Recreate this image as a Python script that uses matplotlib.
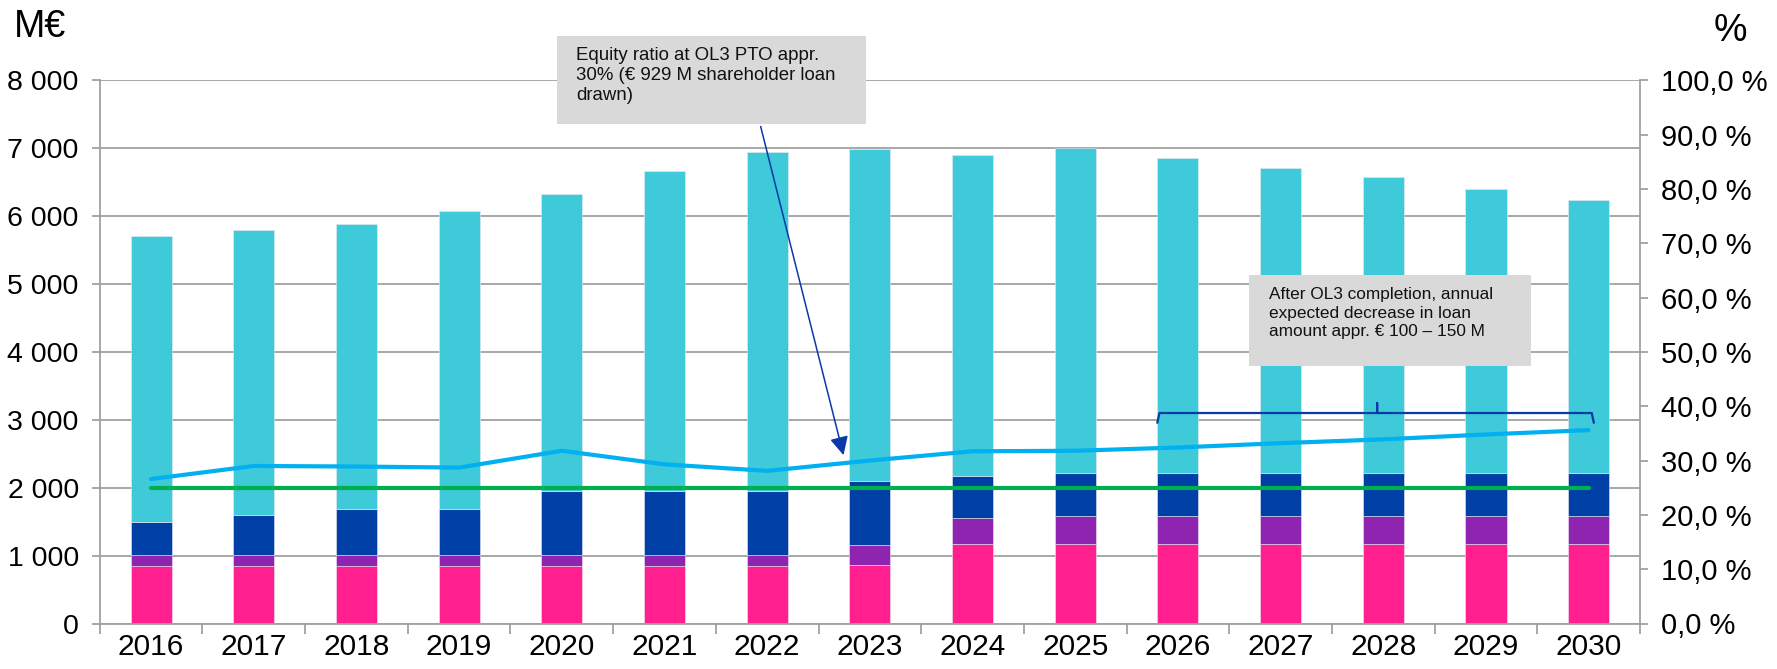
import numpy as np
import matplotlib
matplotlib.use("Agg")
import matplotlib.pyplot as plt

plt.rcParams["font.family"] = ["Liberation Sans", "DejaVu Sans"]

# data (M€ stacked segments, bottom -> top)
years = [str(y) for y in range(2016, 2031)]
pink = [850, 850, 850, 850, 850, 850, 850, 865, 1165, 1165, 1165, 1165, 1165, 1165, 1165]
purple = [160, 160, 160, 160, 160, 160, 160, 295, 390, 425, 425, 425, 425, 425, 425]
blue = [480, 585, 680, 680, 945, 945, 945, 935, 620, 630, 630, 630, 630, 630, 630]
cyan = [4220, 4205, 4195, 4390, 4370, 4715, 4985, 4895, 4720, 4780, 4640, 4495, 4350, 4175, 4015]
# percent series (right axis)
equity_ratio = [26.6, 29.0, 28.9, 28.7, 31.8, 29.3, 28.1, 30.0, 31.7, 31.8, 32.4, 33.2, 33.9, 34.8, 35.6]
target = [25.0] * 15

c_pink = "#ff1f8f"
c_purple = "#8e24b0"
c_blue = "#003fa5"
c_cyan = "#3ecad9"
c_line = "#00b0f0"
c_green = "#00b050"
c_grid = "#a0a0a0"
c_arrow = "#0a3aa5"

W, H = 1777, 669
fig = plt.figure(figsize=(W / 100, H / 100), dpi=100)
ax = fig.add_axes([99.7 / W, 1 - 623.5 / H, 1540.3 / W, 543.2 / H])

x = np.arange(len(years))
bw = 0.40
bottom = np.zeros(len(years))
for vals, col in [(pink, c_pink), (purple, c_purple), (blue, c_blue), (cyan, c_cyan)]:
    ax.bar(x, vals, bw, bottom=bottom, color=col, edgecolor="#e8e8f0", linewidth=0.4, zorder=2)
    bottom += np.array(vals)

ax.set_xlim(-0.5, len(years) - 0.5)
ax.set_ylim(0, 8000)
ax.set_yticks(np.arange(0, 8001, 1000))
ax.set_yticklabels([f"{v:,}".replace(",", " ") for v in range(0, 8001, 1000)], fontsize=20.5)
ax.yaxis.grid(True, color=c_grid, lw=1.3)
ax.set_axisbelow(True)
ax.set_xticks(x)
ax.set_xticklabels(years, fontsize=21.5)
ax.tick_params(axis="x", length=0, pad=7)
ax.set_xticks(np.arange(-0.5, len(years)), minor=True)
ax.tick_params(axis="x", which="minor", length=7, width=1.3, color=c_grid)
ax.tick_params(axis="y", length=6, width=1.3, color=c_grid, pad=9)
for s in ["top", "right"]:
    ax.spines[s].set_visible(False)
for s in ["left", "bottom"]:
    ax.spines[s].set_color(c_grid)
    ax.spines[s].set_linewidth(1.3)

ax2 = ax.twinx()
ax2.set_ylim(0, 100)
ax2.set_yticks(np.arange(0, 101, 10))
ax2.set_yticklabels([f"{v:.1f} %".replace(".", ",") for v in range(0, 101, 10)], fontsize=21)
ax2.tick_params(axis="y", length=6, width=1.3, color=c_grid, pad=9)
for s in ["top", "left", "bottom"]:
    ax2.spines[s].set_visible(False)
ax2.spines["right"].set_color(c_grid)
ax2.spines["right"].set_linewidth(1.3)

ax2.plot(x, target, color=c_green, lw=3, solid_capstyle="round", zorder=3)
ax2.plot(x, equity_ratio, color=c_line, lw=3, solid_capstyle="round", zorder=4)

# bracket over 2026-2030
bl, br, bc = 9.80, 14.05, 11.94
by, bend, btip = 38.75, 37.0, 40.6
ax2.plot([bl, bl + 0.02, bc - 0.01, bc, bc, bc, bc + 0.01, br - 0.02, br],
         [bend, by, by, by, btip, by, by, by, bend], color=c_arrow, lw=1.6, zorder=5)

# arrow from the equity box
ax2.annotate("", xy=(6.75, 30.5), xytext=(5.93, 92.0),
             arrowprops=dict(arrowstyle="-|>", color=c_arrow, lw=1.1, mutation_scale=28),
             annotation_clip=False, zorder=6)

# text boxes (figure pixel positions)
def box(x0, y0, x1, y1):
    r = plt.Rectangle((x0 / W, 1 - y1 / H), (x1 - x0) / W, (y1 - y0) / H,
                      transform=fig.transFigure, facecolor="#d9d9d9", edgecolor="none", zorder=10)
    fig.add_artist(r)

box(557, 36, 866, 124)
fig.text(576 / W, 1 - 47 / H, "Equity ratio at OL3 PTO appr.\n30% (€ 929 M shareholder loan\ndrawn)",
         fontsize=13.4, va="top", ha="left", linespacing=1.25, color="#111111", zorder=11)
box(1249, 275, 1531, 366)
fig.text(1269 / W, 1 - 287 / H, "After OL3 completion, annual\nexpected decrease in loan\namount appr. € 100 – 150 M",
         fontsize=12.4, va="top", ha="left", linespacing=1.3, color="#111111", zorder=11)

fig.text(14 / W, 1 - 27 / H, "M€", fontsize=27, va="center", ha="left")
fig.text(1730 / W, 1 - 31 / H, "%", fontsize=27, va="center", ha="center")

fig.savefig("out.png", dpi=100)
